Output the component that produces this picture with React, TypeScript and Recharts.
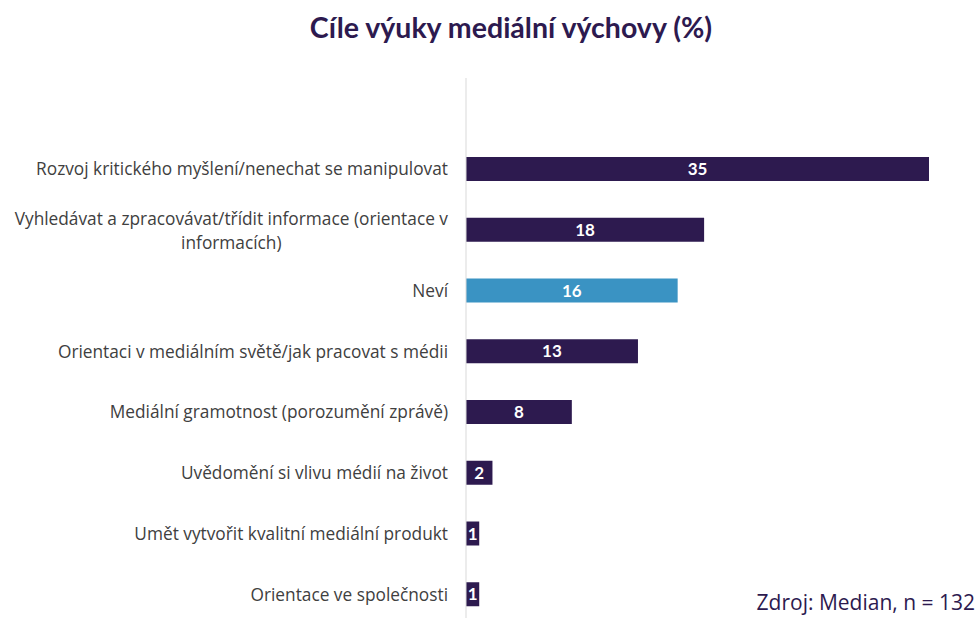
import { BarChart, Bar, XAxis, YAxis, LabelList, Cell } from "recharts";

const CATEGORIES = [
  "Rozvoj kritického myšlení/nenechat se manipulovat",
  "Vyhledávat a zpracovávat/třídit informace (orientace v informacích)",
  "Neví",
  "Orientaci v mediálním světě/jak pracovat s médii",
  "Mediální gramotnost (porozumění zprávě)",
  "Uvědomění si vlivu médií na život",
  "Umět vytvořit kvalitní mediální produkt",
  "Orientace ve společnosti",
];

const VALUES = [35, 18, 16, 13, 8, 2, 1, 1];

const TITLE = "Cíle výuky mediální výchovy (%)";
const SOURCE = "Zdroj: Median, n = 132";

const DARK = "#2D1A4F";
const BLUE = "#3A93C3";
const FONT = "Lato, 'Open Sans', sans-serif";
const LABEL_FONT = "'Open Sans', sans-serif";
const LABEL_SIZE = 17.3;

const data = CATEGORIES.map((name, i) => ({ name, value: VALUES[i] }));

// wrap long labels at the last space before ~55 chars
function wrap(text: string, max = 55): string[] {
  if (text.length <= max) return [text];
  const cut = text.lastIndexOf(" ", max);
  return [text.slice(0, cut), text.slice(cut + 1)];
}

let ctx: CanvasRenderingContext2D | null = null;
function measure(t: string) {
  if (!ctx) ctx = document.createElement("canvas").getContext("2d");
  if (!ctx) return t.length * 8.4;
  ctx.font = `${LABEL_SIZE}px 'Open Sans'`;
  return ctx.measureText(t).width;
}

const CategoryTick = (props: any) => {
  const { x, y, payload } = props;
  const lines = wrap(payload.value);
  const right = x - 10;
  if (lines.length === 1) {
    return (
      <text x={right} y={y} dy={6} textAnchor="end" fill="#404040" fontSize={LABEL_SIZE} fontFamily={LABEL_FONT}>
        {lines[0]}
      </text>
    );
  }
  const w = Math.max(...lines.map(measure));
  const cx = right - w / 2;
  return (
    <text x={cx} y={y} textAnchor="middle" fill="#404040" fontSize={LABEL_SIZE} fontFamily={LABEL_FONT}>
      {lines.map((l, i) => (
        <tspan key={i} x={cx} y={y - 5 + i * 24}>
          {l}
        </tspan>
      ))}
    </text>
  );
};

export default function App() {
  return (
    <div
      style={{
        position: "absolute",
        top: 0,
        left: 0,
        width: 980,
        height: 618,
        overflow: "hidden",
        background: "#fff",
      }}
    >
      <div
        style={{
          position: "absolute",
          top: 10,
          left: 0,
          width: 1022,
          textAlign: "center",
          fontFamily: FONT,
          fontWeight: 700,
          fontSize: 28.5,
          color: DARK,
        }}
      >
        {TITLE}
      </div>
      <BarChart
        width={980}
        height={640}
        data={data}
        layout="vertical"
        margin={{ top: 78, right: 51, bottom: 0, left: 0 }}
        barCategoryGap="60%"
      >
        <XAxis type="number" domain={[0, 35]} hide />
        <YAxis
          type="category"
          dataKey="name"
          width={466}
          padding={{ top: 61, bottom: 15 }}
          axisLine={{ stroke: "#D9D9D9" }}
          tickLine={false}
          tick={<CategoryTick />}
          interval={0}
        />
        <Bar dataKey="value" fill={DARK} barSize={24} isAnimationActive={false}>
          {data.map((d) => (
            <Cell key={d.name} fill={d.name === "Neví" ? BLUE : DARK} />
          ))}
          <LabelList
            dataKey="value"
            position="center"
            fill="#fff"
            fontSize={17}
            fontWeight={700}
            fontFamily={FONT}
          />
        </Bar>
      </BarChart>
      <div
        style={{
          position: "absolute",
          top: 588,
          right: 5,
          fontFamily: LABEL_FONT,
          fontSize: 21,
          color: DARK,
        }}
      >
        {SOURCE}
      </div>
    </div>
  );
}
